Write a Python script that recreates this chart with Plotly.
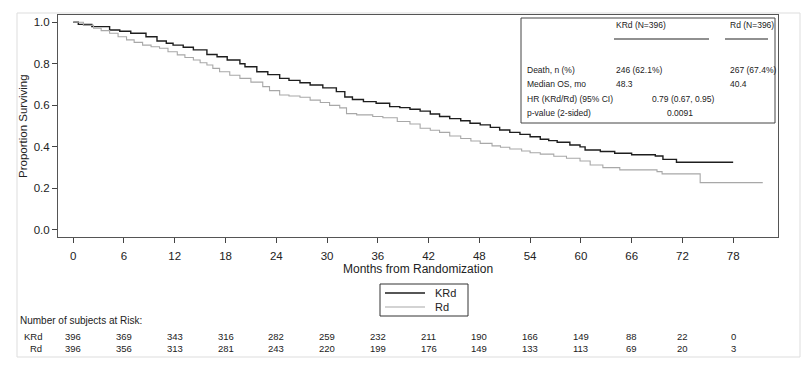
import plotly.graph_objects as go

# ---------------- data ----------------
krd_months = [0, 0.6, 2.2, 4.3, 5.5, 6.8, 8.6, 9.9, 11.0, 11.8, 13.0, 14.2, 15.8, 17.0, 18.2,
              19.7, 20.3, 21.7, 23.0, 24.4, 25.5, 26.8, 28.0, 29.5, 31.1, 32.1, 33.0, 34.3,
              35.8, 37.4, 38.6, 39.8, 41.0, 42.2, 43.3, 44.5, 45.8, 46.9, 48.1, 49.3, 50.4,
              51.6, 52.8, 54.0, 55.2, 56.2, 57.2, 58.7, 59.9, 60.5, 62.3, 64.0, 66.0, 68.8,
              69.7, 71.3, 78.0]
krd_surv = [1.0, 0.990, 0.979, 0.963, 0.957, 0.947, 0.930, 0.910, 0.899, 0.890, 0.880, 0.867,
            0.845, 0.834, 0.818, 0.800, 0.786, 0.762, 0.748, 0.730, 0.720, 0.709, 0.698, 0.684,
            0.666, 0.640, 0.628, 0.618, 0.610, 0.594, 0.589, 0.581, 0.572, 0.558, 0.546, 0.536,
            0.526, 0.514, 0.506, 0.494, 0.481, 0.470, 0.460, 0.449, 0.437, 0.430, 0.422, 0.409,
            0.400, 0.385, 0.378, 0.369, 0.362, 0.356, 0.340, 0.326, 0.326]

rd_months = [0, 1.2, 2.4, 3.3, 4.3, 5.3, 6.3, 7.2, 8.2, 9.2, 10.2, 11.2, 12.3, 13.2, 14.2, 15.0,
             15.8, 16.5, 17.3, 18.5, 19.7, 21.0, 22.4, 23.2, 24.4, 25.5, 26.8, 28.0, 29.2, 30.3,
             31.5, 32.3, 33.5, 35.4, 36.6, 38.3, 39.8, 41.0, 42.2, 43.3, 44.5, 45.8, 47.0, 48.1,
             49.5, 50.5, 51.6, 53.0, 54.0, 55.2, 56.8, 58.3, 59.9, 61.1, 62.6, 64.6, 69.0, 69.6,
             74.1, 81.5]
rd_surv = [1.0, 0.985, 0.971, 0.960, 0.947, 0.930, 0.915, 0.903, 0.890, 0.882, 0.875, 0.858,
           0.843, 0.830, 0.818, 0.805, 0.794, 0.778, 0.762, 0.745, 0.730, 0.712, 0.690, 0.671,
           0.650, 0.645, 0.639, 0.625, 0.614, 0.600, 0.588, 0.560, 0.554, 0.546, 0.540, 0.522,
           0.510, 0.490, 0.480, 0.470, 0.452, 0.440, 0.428, 0.417, 0.405, 0.398, 0.390, 0.380,
           0.372, 0.365, 0.355, 0.345, 0.332, 0.313, 0.300, 0.289, 0.281, 0.270, 0.228, 0.228]

risk_months = [0, 6, 12, 18, 24, 30, 36, 42, 48, 54, 60, 66, 72, 78]
krd_at_risk = [396, 369, 343, 316, 282, 259, 232, 211, 190, 166, 149, 88, 22, 0]
rd_at_risk = [396, 356, 313, 281, 243, 220, 199, 176, 149, 133, 113, 69, 20, 3]

y_ticks = [0.0, 0.2, 0.4, 0.6, 0.8, 1.0]

series_names = ["KRd", "Rd"]
series_colors = ["#1e1e1e", "#a8a8a8"]

table_rows = ["Death, n (%)", "Median OS, mo", "HR (KRd/Rd) (95% CI)", "p-value (2-sided)"]
krd_col = ["246 (62.1%)", "48.3"]
rd_col = ["267 (67.4%)", "40.4"]
hr_text = "0.79 (0.67, 0.95)"
p_text = "0.0091"

# ---------------- layout helpers ----------------
W, H = 804, 370
L, R, T, B = 58, 778, 15, 237


def px(xp):
    return (xp - L) / (R - L)


def py(yp):
    return (B - yp) / (B - T)


SANS = "Liberation Sans, Arial, sans-serif"
INK = "#222222"

fig = go.Figure()
fig.add_trace(go.Scatter(x=krd_months, y=krd_surv, mode="lines", name=series_names[0],
                         line=dict(color=series_colors[0], width=1.4, shape="hv")))
fig.add_trace(go.Scatter(x=rd_months, y=rd_surv, mode="lines", name=series_names[1],
                         line=dict(color=series_colors[1], width=1.1, shape="hv")))

axis_common = dict(showline=True, linecolor="#555555", linewidth=1, mirror=True,
                   showgrid=False, zeroline=False, ticks="outside", ticklen=5,
                   tickcolor="#444444", tickfont=dict(family=SANS, size=11.5, color=INK))

fig.update_layout(
    width=W, height=H,
    margin=dict(l=L, r=W - R, t=T, b=H - B),
    paper_bgcolor="white", plot_bgcolor="white",
    xaxis=dict(range=[-1.8, 83.3], tickvals=risk_months, ticklabelstandoff=3, **axis_common),
    yaxis=dict(range=[-0.034, 1.035], tickvals=y_ticks, tickformat=".1f", **axis_common),
    showlegend=False,
)


def note(text, x, y, xref="paper", xanchor="center", size=11, **kw):
    return dict(text=text, x=x, y=y, xref=xref, yref="paper", xanchor=xanchor,
                yanchor="middle", showarrow=False,
                font=dict(family=SANS, size=size, color=INK), **kw)


ann = []
# axis titles
ann.append(note("Months from Randomization", 0.5, py(269), size=12))
ann.append(note("Proportion Surviving", px(23), 0.5, size=11.5, textangle=-90))

# legend (compact box like the original)
legend_y = [293, 307]
for name, yy in zip(series_names, legend_y):
    ann.append(note(name, px(433), py(yy), xanchor="left", size=11))

# risk table
rows_y = [336.5, 348]
ann.append(note("Number of subjects at Risk:", px(18), py(320), xanchor="left", size=10))
ann.append(note("KRd", px(44), py(rows_y[0]), xanchor="right", size=9.5))
ann.append(note("Rd", px(44), py(rows_y[1]), xanchor="right", size=9.5))
for m, a, b in zip(risk_months, krd_at_risk, rd_at_risk):
    ann.append(note(str(a), m, py(rows_y[0]), xref="x", size=9.5))
    ann.append(note(str(b), m, py(rows_y[1]), xref="x", size=9.5))

# inset statistics table
ts = 8.5
ann.append(note("KRd (N=396)", px(614), py(25), xanchor="left", size=ts))
ann.append(note("Rd (N=396)", px(728), py(25), xanchor="left", size=ts))
row_y = [70, 84, 99, 113]
for lbl, yy in zip(table_rows, row_y):
    ann.append(note(lbl, px(525), py(yy), xanchor="left", size=ts))
for v, yy in zip(krd_col, row_y[:2]):
    ann.append(note(v, px(614), py(yy), xanchor="left", size=ts))
for v, yy in zip(rd_col, row_y[:2]):
    ann.append(note(v, px(728), py(yy), xanchor="left", size=ts))
ann.append(note(hr_text, px(683), py(row_y[2]), size=ts))
ann.append(note(p_text, px(680), py(row_y[3]), size=ts))

fig.update_layout(annotations=ann)

shapes = [
    # statistics inset box and header rules
    dict(type="rect", xref="paper", yref="paper", x0=px(521), x1=px(775), y0=py(123), y1=py(18),
         line=dict(color="#444444", width=1), fillcolor="rgba(0,0,0,0)"),
    dict(type="line", xref="paper", yref="paper", x0=px(614), x1=px(709), y0=py(39), y1=py(39),
         line=dict(color="#222222", width=1.2)),
    dict(type="line", xref="paper", yref="paper", x0=px(725), x1=px(768), y0=py(39), y1=py(39),
         line=dict(color="#222222", width=1.2)),
    # legend box
    dict(type="rect", xref="paper", yref="paper", x0=px(380), x1=px(468), y0=py(316), y1=py(284),
         line=dict(color="#333333", width=1), fillcolor="white"),
    # faint outer frame
    dict(type="rect", xref="paper", yref="paper", x0=px(17), x1=px(800), y0=py(357), y1=py(13),
         line=dict(color="#dddddd", width=1), fillcolor="rgba(0,0,0,0)", layer="below"),
]
for col, yy, wd in zip(series_colors, legend_y, [1.4, 1.1]):
    shapes.append(dict(type="line", xref="paper", yref="paper", x0=px(385), x1=px(425),
                       y0=py(yy), y1=py(yy), line=dict(color=col, width=wd)))
fig.update_layout(shapes=shapes)

fig.write_html("out.html", config={"displayModeBar": False},
               post_script="document.body.style.margin='0px';")
